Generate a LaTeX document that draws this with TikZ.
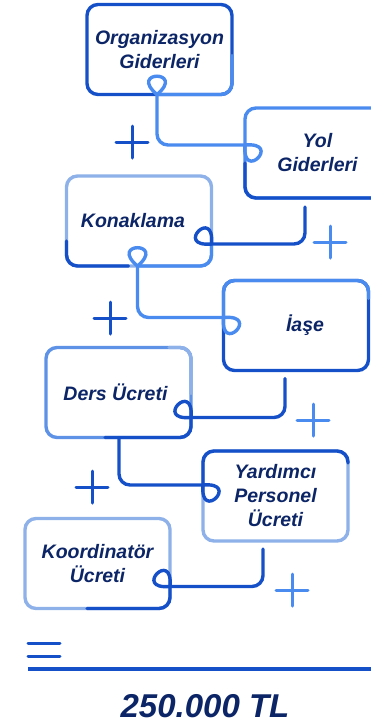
\documentclass[tikz,border=0pt]{standalone}
\usepackage{fontspec}
\setmainfont{Liberation Sans}
\usetikzlibrary{calc}

\definecolor{navytext}{HTML}{0C2566}
\definecolor{dkblue}{HTML}{1550C8}
\definecolor{ltblue}{HTML}{4A8BEF}
\definecolor{midblue}{HTML}{5E92E6}
\definecolor{paleblue}{HTML}{8EB1EA}

\tikzset{
  box/.style={draw, rounded corners=11pt, line width=3.4pt, minimum width=145pt,
    minimum height=90pt, inner sep=0pt, outer sep=0pt, align=center, text=navytext,
    font=\fontsize{19.5}{24}\selectfont\bfseries\itshape},
  rim/.style={line width=3.4pt, rounded corners=11pt, line cap=round},
  link/.style={line width=3.4pt, rounded corners=11pt, line cap=round},
  curlup/.style={out=40, in=140, distance=38pt},
  curlright/.style={out=5, in=-95, distance=38pt},
  curlleft/.style={out=85, in=185, distance=38pt},
  plusmark/.style={line width=3pt, line cap=round}
}

\begin{document}
\begin{tikzpicture}[x=1pt, y=1pt]
  \useasboundingbox (0,0) rectangle (371,-724);
  \clip (0,0) rectangle (371,-724);

  % cost items
  \node[box, draw=dkblue] (org) at (159.5,-49.5) {Organizasyon\\Giderleri};
  \node[box, draw=ltblue] (yol) at (317.5,-153) {Yol\\Giderleri};
  \node[box, draw=paleblue] (konak) at (139,-221) {Konaklama\hspace*{12pt}};
  \node[box, draw=dkblue] (iase) at (296,-325.5) {\hspace*{18pt}İaşe};
  \node[box, draw=midblue] (ders) at (118.5,-392.5) {Ders Ücreti\hspace*{6pt}};
  \node[box, draw=paleblue] (yard) at (275.5,-496) {Yardımcı\\Personel\\Ücreti};
  \node[box, draw=paleblue] (koord) at (97.5,-563.5) {Koordinatör\\Ücreti};

  % where the links meet the boxes
  \coordinate (j1) at ($(org.south west)+(70,0)$);
  \coordinate (j2) at ($(yol.north west)+(0,-37)$);
  \coordinate (j3) at ($(konak.south east)+(0,22)$);
  \coordinate (j4) at ($(konak.south west)+(71,0)$);
  \coordinate (j5) at ($(iase.north west)+(0,-37)$);
  \coordinate (j6) at ($(ders.south east)+(0,20)$);
  \coordinate (j7) at ($(yard.north west)+(0,-34)$);
  \coordinate (j8) at ($(koord.south east)+(0,22)$);
  \coordinate (s2) at ($(yol.south west)+(60,-9)$);
  \coordinate (s4) at ($(iase.south west)+(61.5,-8)$);
  \coordinate (s5) at ($(ders.south west)+(73,0)$);
  \coordinate (s6) at ($(yard.south west)+(60,-8)$);

  % two-tone box rims
  \draw[rim, ltblue] ($(org.north east)+(0,-51)$) -- (org.south east) -- (j1);
  \draw[rim, dkblue] ($(j2)+(0,-18)$) -- (yol.south west) -- (yol.south east);
  \draw[rim, dkblue] ($(konak.north west)+(0,-65)$) -- (konak.south west) -- ($(konak.south west)+(62,0)$);
  \draw[rim, ltblue] (j4) -- (konak.south east) -- (j3);
  \draw[rim, ltblue] ($(iase.north east)+(0,-18)$) -- (iase.north east) -- (iase.north west) -- (j5);
  \draw[rim, paleblue] ($(ders.north east)+(-22,0)$) -- (ders.north east) -- ($(j6)+(0,24)$);
  \draw[rim, dkblue] (j6) -- (ders.south east) -- ($(ders.south west)+(59,0)$);
  \draw[rim, dkblue] (j7) -- (yard.north west) -- (yard.north east) -- ($(yard.north east)+(0,-12)$);
  \draw[rim, dkblue] (j8) -- (koord.south east) -- ($(koord.south west)+(62,0)$);

  % links
  \draw[link, ltblue] (j1) |- (j2);
  \draw[link, dkblue] (s2) |- (j3);
  \draw[link, ltblue] (j4) |- (j5);
  \draw[link, dkblue] (s4) |- (j6);
  \draw[link, dkblue] (s5) |- (j7);
  \draw[link, dkblue] (s6) |- (j8);

  % curls
  \draw[link, ltblue] (j1) to[curlup] (j1);
  \draw[link, ltblue] (j2) to[curlright] (j2);
  \draw[link, dkblue] (j3) to[curlleft] (j3);
  \draw[link, ltblue] (j4) to[curlup] (j4);
  \draw[link, ltblue] (j5) to[curlright] (j5);
  \draw[link, dkblue] (j6) to[curlleft] (j6);
  \draw[link, dkblue] (j7) to[curlright] (j7);
  \draw[link, dkblue] (j8) to[curlleft] (j8);

  % plus signs
  \foreach \px/\py/\pc in {132/-142/dkblue, 330/-242/ltblue, 110/-318/dkblue,
      313/-420/ltblue, 92/-487/dkblue, 292/-590/ltblue}
    \draw[plusmark, \pc] (\px-16,\py) -- (\px+16,\py) (\px,\py-16) -- (\px,\py+16);

  % sum
  \draw[plusmark, dkblue] (28,-643) -- (60,-643) (28,-656) -- (60,-656);
  \draw[line width=3.5pt, dkblue] (28,-669) -- (371,-669);
  \node[font=\fontsize{33}{40}\selectfont\bfseries\itshape, text=navytext, anchor=base]
    (total) at (205,-717) {250.000 TL};
\end{tikzpicture}
\end{document}
